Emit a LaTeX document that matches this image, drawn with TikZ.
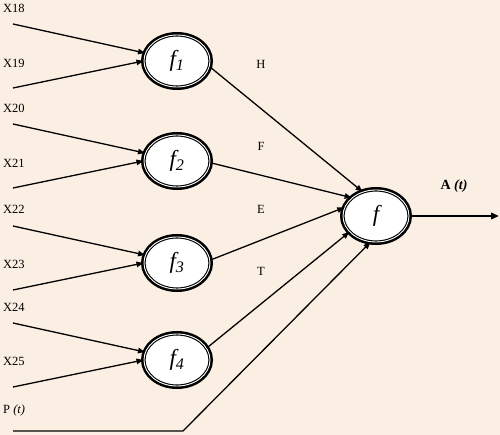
\documentclass[tikz,border=0pt]{standalone}
\usepackage{fontspec}
\setmainfont{Liberation Serif}
\usetikzlibrary{arrows.meta,shapes.geometric}
\definecolor{bg}{RGB}{251,239,227}
\begin{document}
\begin{tikzpicture}[x=1pt,y=-1pt,
  neuron/.style={ellipse,draw=black,fill=white,line width=1.1pt,double=white,double distance=0.9pt,
    preaction={draw=black,line width=6pt},
    minimum width=66pt,minimum height=52pt,inner sep=0pt,font=\fontsize{23}{23}\selectfont\itshape},
  lbl/.style={anchor=west,inner sep=0pt,font=\fontsize{12.5}{13}\selectfont},
  mlbl/.style={inner sep=0pt,font=\fontsize{12.5}{13}\selectfont},
  conn/.style={line width=1.3pt,-{Triangle[length=7pt,width=5.5pt]}},
  plain/.style={line width=1.3pt}]
\fill[bg] (0,0) rectangle (500,435);
\useasboundingbox (0,0) rectangle (500,435);
\node[neuron] (f1) at (177,61) {f\textsubscript{1}};
\node[neuron] (f2) at (177,161) {f\textsubscript{2}};
\node[neuron] (f3) at (177,263) {f\textsubscript{3}};
\node[neuron] (f4) at (177,360) {f\textsubscript{4}};
\node[neuron] (f) at (376,216) {f};
% input labels
\node[lbl] (x18) at (3,8) {X18};
\node[lbl] (x19) at (3,63) {X19};
\node[lbl] (x20) at (3,108) {X20};
\node[lbl] (x21) at (3,163) {X21};
\node[lbl] (x22) at (3,209) {X22};
\node[lbl] (x23) at (3,264) {X23};
\node[lbl] (x24) at (3,307) {X24};
\node[lbl] (x25) at (3,361) {X25};
\node[lbl] (pt) at (3,410) {P \textit{(t)}};
% input start points
\coordinate (s18) at (13,24);
\coordinate (s19) at (13,88);
\coordinate (s20) at (13,124);
\coordinate (s21) at (13,188);
\coordinate (s22) at (13,226);
\coordinate (s23) at (13,290);
\coordinate (s24) at (13,323);
\coordinate (s25) at (13,387);
\coordinate (sp) at (13,431);
\coordinate (pc) at (183,431);
\coordinate (out) at (499,216);
\draw[conn] (s18) -- (f1.166);
\draw[conn] (s19) -- (f1.west);
\draw[conn] (s20) -- (f2.166);
\draw[conn] (s21) -- (f2.west);
\draw[conn] (s22) -- (f3.166);
\draw[conn] (s23) -- (f3.west);
\draw[conn] (s24) -- (f4.166);
\draw[conn] (s25) -- (f4.west);
% hidden to output
\draw[conn] (f1.-10) -- (f.119);
\draw[conn] (f2.-3) -- (f.143);
\draw[conn] (f3.5) -- (f.165);
\draw[conn] (f4.22) -- (f.211);
\draw[conn] (sp) -- (pc) -- (f.258);
\draw[line width=2pt,-{Triangle[length=8pt,width=6.5pt]}] (f.east) -- (out);
% middle labels
\node[mlbl] (H) at (261,64) {H};
\node[mlbl] (F) at (261,146) {F};
\node[mlbl] (E) at (261,209) {E};
\node[mlbl] (T) at (261,271) {T};
\node[mlbl,font=\fontsize{14}{14}\selectfont\bfseries] (A) at (454,186) {A \textit{(t)}};
\end{tikzpicture}
\end{document}
